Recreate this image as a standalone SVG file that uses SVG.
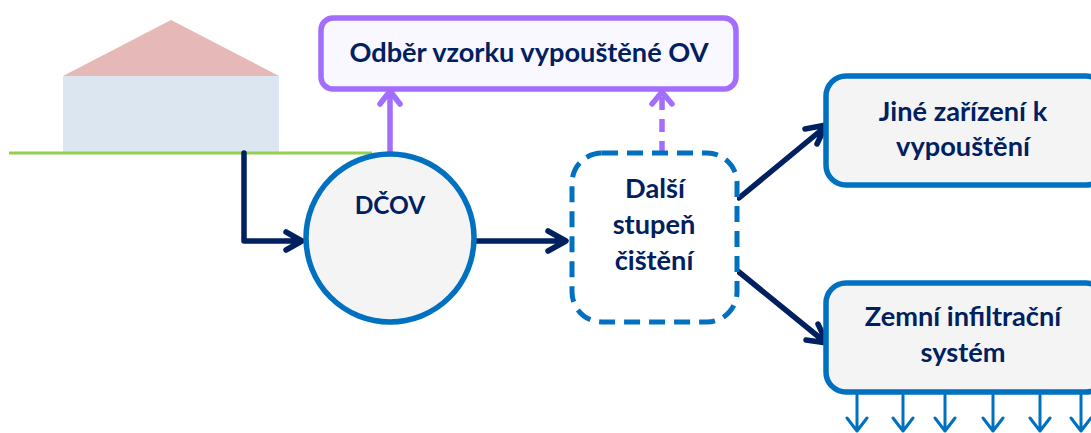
<svg xmlns="http://www.w3.org/2000/svg" width="1091" height="433" viewBox="0 0 1091 433">
<style>
text{font-family:"Lato","Open Sans","Liberation Sans",sans-serif;font-weight:700;font-size:27.2px;fill:#002060;text-anchor:middle}
.l{fill:none;stroke-linecap:round;stroke-linejoin:round}
.navy{stroke:#002060;stroke-width:5.5}
.purple{stroke:#a36eff;stroke-width:5.5}
.blue{stroke:#0070c0;stroke-width:3}
.box{fill:#f4f4f5;stroke:#0070c0;stroke-width:5.5}
</style>
<rect width="1091" height="433" fill="#fff"/>
<g id="house">
<rect x="63" y="76" width="216" height="77" fill="#dce6f1"/>
<polygon points="63,76 171,20 279,76" fill="#e6b8b7"/>
<line x1="9" y1="153" x2="372" y2="153" stroke="#92d050" stroke-width="3"/>
</g>
<g id="connectors">
<path class="l navy" d="M244 153V241H300M286 232L302 241L286 250"/>
<path class="l purple" style="stroke-linecap:butt" d="M390 153V94"/>
<path class="l purple" d="M380 104L390 91L400 104"/>
<path class="l navy" d="M475 241H565M548 231L566 241L548 251"/>
<path class="purple" fill="none" stroke-dasharray="13 9" d="M662 154V94"/>
<path class="l purple" d="M652 104L662 92L672 104"/>
<path class="l navy" d="M739 198L825 127M805 129L826 125L817 144"/>
<path class="l navy" d="M739 272L825 342M806 340L827 343L818 324"/>
<g id="infiltration-arrows">
<path class="l blue" d="M857 395V431M847 418L857 431L867 418"/>
<path class="l blue" d="M903 395V431M893 418L903 431L913 418"/>
<path class="l blue" d="M945 395V431M935 418L945 431L955 418"/>
<path class="l blue" d="M993 395V431M983 418L993 431L1003 418"/>
<path class="l blue" d="M1040 395V431M1030 418L1040 431L1050 418"/>
<path class="l blue" d="M1081 395V431M1071 418L1081 431L1091 418"/>
</g>
</g>
<g id="odber">
<rect x="321" y="18" width="415" height="71" rx="12" fill="#f9f7ff" stroke="#a36eff" stroke-width="5.5"/>
<text x="529" y="62">Odběr vzorku vypouštěné OV</text>
</g>
<g id="dcov">
<circle cx="390" cy="238" r="84" class="box"/>
<text x="390" y="214" style="font-size:24.5px">DČOV</text>
</g>
<g id="dalsi">
<rect x="572" y="153" width="165" height="169" rx="30" fill="#fff" stroke="#0070c0" stroke-width="5" stroke-dasharray="16 9"/>
<text x="655" y="198">Další</text>
<text x="654" y="234">stupeň</text>
<text x="654" y="270">čištění</text>
</g>
<g id="jine">
<rect x="826" y="76" width="280" height="109" rx="20" class="box"/>
<text x="963" y="121">Jiné zařízení k</text>
<text x="963" y="156">vypouštění</text>
</g>
<g id="zemni">
<rect x="826" y="283" width="280" height="109" rx="20" class="box"/>
<text x="963" y="326">Zemní infiltrační</text>
<text x="963" y="362">systém</text>
</g>
</svg>
